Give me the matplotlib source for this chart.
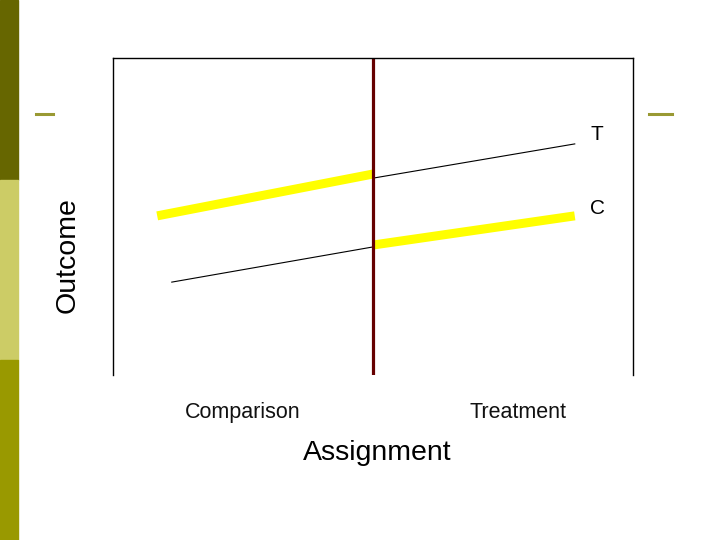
import matplotlib.pyplot as plt
from matplotlib.patches import Rectangle
from matplotlib.lines import Line2D

plt.rcParams['font.family'] = ['Liberation Sans', 'DejaVu Sans']

# assignment scale runs 0..1, cutoff in the middle
cutoff = 0.5

# treatment group: thin line is the projected trend, yellow is the observed part
t_proj_x = [0.5, 0.888]
t_proj_y = [0.621, 0.729]
t_obs_x = [0.085, 0.5]
t_obs_y = [0.502, 0.634]

# comparison group
c_proj_x = [0.113, 0.5]
c_proj_y = [0.293, 0.404]
c_obs_x = [0.5, 0.888]
c_obs_y = [0.410, 0.502]

tick_pos = [0.25, 0.779]
tick_labels = ['Comparison', 'Treatment']
line_labels = ['T', 'C']
label_y = [0.76, 0.525]

fig = plt.figure(figsize=(7.2, 5.4), dpi=100)

# slide decoration on the left edge
fig.patches.append(Rectangle((0, 1 - 180 / 540), 18 / 720, 180 / 540,
                             transform=fig.transFigure, color='#666600', zorder=0))
fig.patches.append(Rectangle((0, 1 - 360 / 540), 18 / 720, 180 / 540,
                             transform=fig.transFigure, color='#cccc66', zorder=0))
fig.patches.append(Rectangle((0, 0), 18 / 720, 180 / 540,
                             transform=fig.transFigure, color='#999900', zorder=0))
fig.lines.append(Line2D([36 / 720, 53 / 720], [1 - 114 / 540] * 2,
                        transform=fig.transFigure, color='#999933', lw=2.2))
fig.lines.append(Line2D([649 / 720, 672 / 720], [1 - 114 / 540] * 2,
                        transform=fig.transFigure, color='#999933', lw=2.2))

ax = fig.add_axes([113 / 720, 165 / 540, 520 / 720, 317 / 540])
ax.set_xlim(0, 1)
ax.set_ylim(0, 1)

ax.plot(t_proj_x, t_proj_y, color='black', lw=0.8)
ax.plot(c_proj_x, c_proj_y, color='black', lw=0.8)
ax.plot(t_obs_x, t_obs_y, color='#ffff00', lw=6.5, solid_capstyle='butt')
ax.plot(c_obs_x, c_obs_y, color='#ffff00', lw=6.5, solid_capstyle='butt')
ax.axvline(cutoff, color='#660000', lw=2.3)

for lab, ly in zip(line_labels, label_y):
    ax.text(0.931, ly, lab, fontsize=15, ha='center', va='center')

ax.set_xticks(tick_pos)
ax.set_xticklabels(tick_labels, fontsize=15.5, color='#111111')
ax.tick_params(axis='x', length=0, pad=19.5)
ax.set_yticks([])
ax.spines['bottom'].set_visible(False)
for s in ['left', 'top', 'right']:
    ax.spines[s].set_linewidth(1.0)

fig.text(377 / 720, 1 - 453 / 540, 'Assignment', fontsize=20.5,
         ha='center', va='center')
fig.text(68 / 720, 1 - 255 / 540, 'Outcome', fontsize=20.5,
         ha='center', va='center', rotation=90)

fig.savefig('out.png', dpi=100)
